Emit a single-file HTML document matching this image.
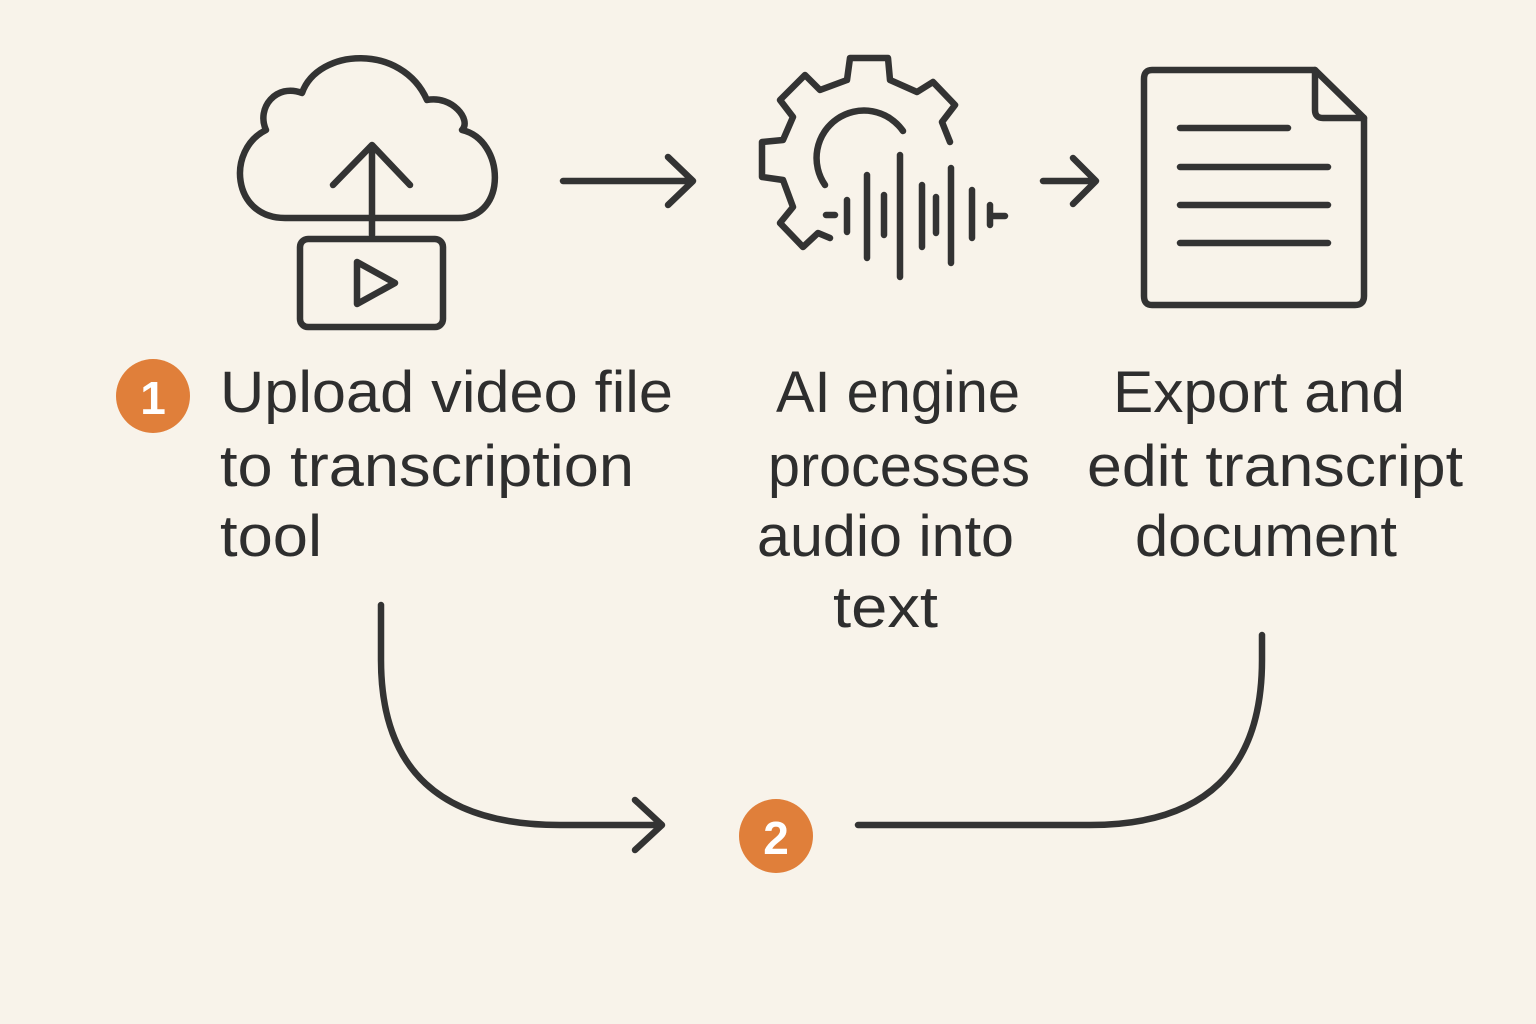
<!DOCTYPE html>
<html><head><meta charset="utf-8"><style>
html,body{margin:0;padding:0;background:#f8f3ea;}
svg{display:block}
text{font-family:"Liberation Sans","DejaVu Sans",sans-serif;fill:#2e2e2e;font-size:58px;}
</style></head><body>
<svg width="1536" height="1024" viewBox="0 0 1536 1024" xmlns="http://www.w3.org/2000/svg">
<rect width="1536" height="1024" fill="#f8f3ea"/>
<g fill="none" stroke="#333" stroke-width="6.5" stroke-linecap="round" stroke-linejoin="round">
<path d="M285 218 C232 218 226 150 266 130 C256 108 276 83 302 93 C318 48 402 43 427 100 C452 95 472 120 462 130 C505 140 508 218 458 218 Z"/>
<path d="M372 235 V145 M333 185 L372 145 L410 185"/>
<rect x="300" y="239" width="143" height="88" rx="8"/>
<path d="M357 262 V304 L395 283 Z"/>
<path d="M563 181 H693 M668 157 L693 181 L668 205"/>
<path d="M1043 181 H1096 M1073 158 L1096 181 L1073 204"/>
<path d="M830 238 L818 233 L803 247 L780 223 L793 207 L783 180 L762 177 L762 142 L783 140 L793 117 L780 100 L805 75 L820 90 L847 80 L850 58 L888 58 L890 80 L917 92 L933 82 L955 105 L942 122 L950 142"/>
<path d="M825 185 A43 43 0 1 1 903 131"/>
<path d="M826 215 H835 M847 200 V232 M867 175 V258 M884 195 V235 M900 155 V277 M922 185 V247 M936 197 V233 M951 168 V263 M972 190 V238 M990 205 V225 M990 216 H1005"/>
<path d="M1152 70 H1315 L1364 118 V296 Q1364 305 1355 305 H1152 Q1144 305 1144 296 V79 Q1144 70 1152 70 Z"/>
<path d="M1315 70 V110 Q1315 118 1323 118 H1364"/>
<path d="M1180 128 H1288 M1180 167 H1328 M1180 205 H1328 M1180 243 H1328"/>
<path d="M381 605 V660 Q381 825 560 825 H660 M635 800 L662 825 L635 850"/>
<path d="M1262 635 V660 Q1262 825 1090 825 H858"/>
</g>
<circle cx="153" cy="396" r="37" fill="#e07f3a"/>
<text x="153" y="414" text-anchor="middle" style="fill:#fff;font-size:46px;font-weight:bold">1</text>
<circle cx="776" cy="836" r="37" fill="#e07f3a"/>
<text x="776" y="854" text-anchor="middle" style="fill:#fff;font-size:46px;font-weight:bold">2</text>
<text x="220" y="412" textLength="453" lengthAdjust="spacingAndGlyphs">Upload video file</text>
<text x="220" y="486" textLength="414" lengthAdjust="spacingAndGlyphs">to transcription</text>
<text x="220" y="556" textLength="102" lengthAdjust="spacingAndGlyphs">tool</text>
<text x="776" y="412" textLength="244" lengthAdjust="spacingAndGlyphs">AI engine</text>
<text x="768" y="486" textLength="262" lengthAdjust="spacingAndGlyphs">processes</text>
<text x="757" y="556" textLength="257" lengthAdjust="spacingAndGlyphs">audio into</text>
<text x="833" y="627" textLength="105" lengthAdjust="spacingAndGlyphs">text</text>
<text x="1113" y="412" textLength="292" lengthAdjust="spacingAndGlyphs">Export and</text>
<text x="1087" y="486" textLength="376" lengthAdjust="spacingAndGlyphs">edit transcript</text>
<text x="1135" y="556" textLength="262" lengthAdjust="spacingAndGlyphs">document</text>
</svg>
</body></html>
